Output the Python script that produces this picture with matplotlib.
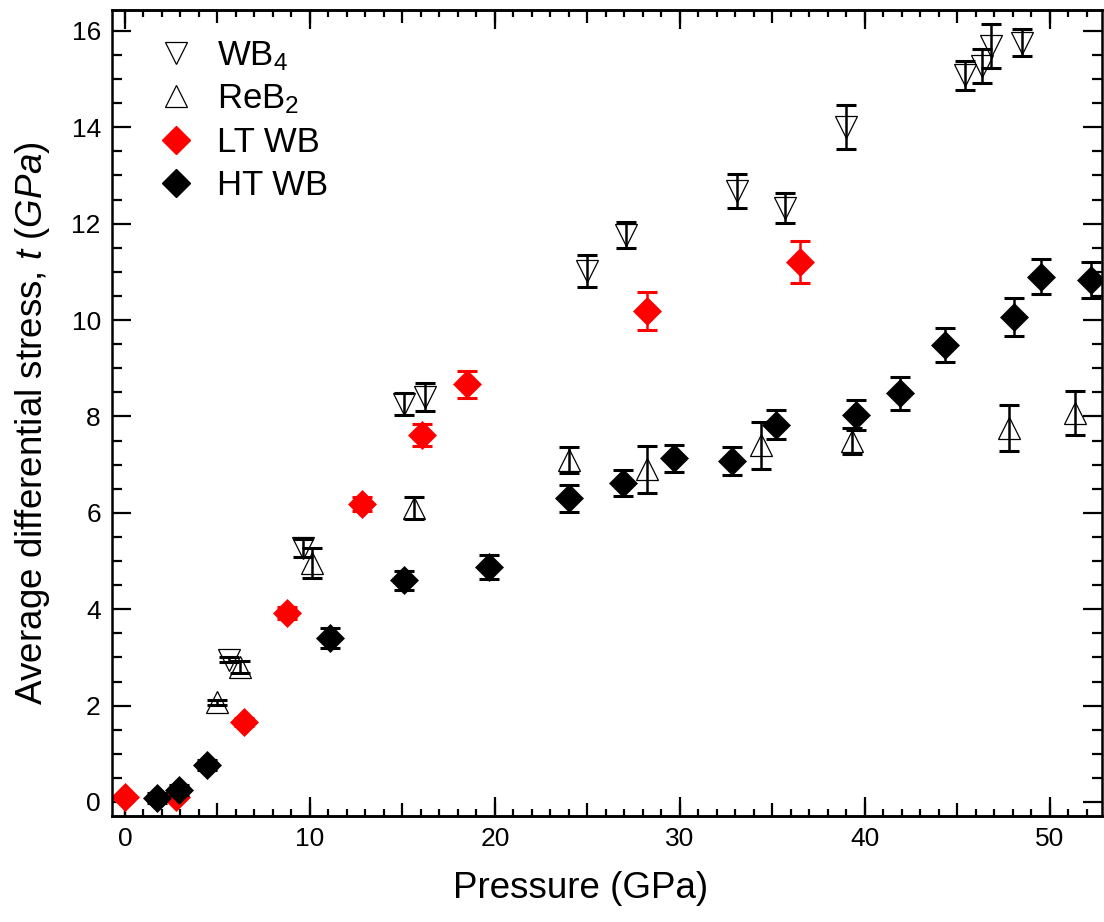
import numpy as np
import matplotlib.pyplot as plt
from matplotlib.lines import Line2D
from matplotlib.ticker import MultipleLocator, FixedLocator, FuncFormatter

plt.rcParams['font.family'] = ['Liberation Sans', 'DejaVu Sans']
plt.rcParams['mathtext.fontset'] = 'custom'
plt.rcParams['mathtext.rm'] = 'Liberation Sans'
plt.rcParams['mathtext.it'] = 'Liberation Sans:italic'
plt.rcParams['mathtext.default'] = 'regular'

# WB4 (open down triangles)
wb4_p = [5.6, 9.6, 15.1, 16.2, 25.0, 27.1, 33.1, 35.7, 39.0, 45.4, 46.3, 46.8, 48.5]
wb4_t = [2.95, 5.27, 8.26, 8.40, 11.02, 11.76, 12.68, 12.32, 14.0, 15.08, 15.27, 15.68, 15.75]
wb4_err = [0.05, 0.18, 0.23, 0.29, 0.33, 0.27, 0.36, 0.31, 0.46, 0.30, 0.35, 0.46, 0.28]

# ReB2 (open up triangles)
reb2_p = [5.0, 6.2, 10.1, 15.6, 24.0, 28.2, 34.4, 39.3, 47.8, 51.35]
reb2_t = [2.07, 2.8, 4.96, 6.1, 7.1, 6.9, 7.4, 7.5, 7.76, 8.07]
reb2_err = [0.05, 0.12, 0.32, 0.22, 0.27, 0.48, 0.49, 0.27, 0.47, 0.46]

# LT WB (red diamonds)
lt_p = [0.0, 2.75, 6.43, 8.75, 12.8, 16.05, 18.5, 28.2, 36.5]
lt_t = [0.1, 0.1, 1.66, 3.92, 6.18, 7.62, 8.67, 10.19, 11.2]
lt_err = [0.05, 0.05, 0.08, 0.12, 0.15, 0.23, 0.28, 0.40, 0.44]

# HT WB (black diamonds)
ht_p = [1.73, 2.9, 4.43, 11.1, 15.1, 19.7, 24.0, 26.9, 29.7, 32.8, 35.2, 39.5, 41.9, 44.3, 48.05, 49.5, 52.2]
ht_t = [0.08, 0.25, 0.77, 3.4, 4.6, 4.88, 6.3, 6.62, 7.13, 7.07, 7.83, 8.03, 8.48, 9.48, 10.06, 10.9, 10.83]
ht_err = [0.10, 0.10, 0.10, 0.20, 0.20, 0.25, 0.28, 0.27, 0.28, 0.29, 0.30, 0.31, 0.34, 0.35, 0.39, 0.37, 0.37]

red = '#ff0000'
tri_ms = 16
dia_ms = 14

fig, ax = plt.subplots(figsize=(11.04, 9.22), dpi=100)
fig.subplots_adjust(left=0.1014, right=0.998, top=0.989, bottom=0.115)

eb = dict(fmt='none', capsize=7, capthick=2.2, elinewidth=1.8)
ax.errorbar(wb4_p, wb4_t, yerr=wb4_err, ecolor='k', **eb)
ax.plot(wb4_p, wb4_t, ls='none', marker='v', ms=tri_ms, mfc='none', mec='k', mew=0.9)
ax.errorbar(reb2_p, reb2_t, yerr=reb2_err, ecolor='k', **eb)
ax.plot(reb2_p, reb2_t, ls='none', marker='^', ms=tri_ms, mfc='none', mec='k', mew=0.9)
ax.errorbar(lt_p, lt_t, yerr=lt_err, ecolor=red, **eb)
ax.plot(lt_p, lt_t, ls='none', marker='D', ms=dia_ms, mfc=red, mec=red, mew=0.5)
ax.errorbar(ht_p, ht_t, yerr=ht_err, ecolor='k', **eb)
ax.plot(ht_p, ht_t, ls='none', marker='D', ms=dia_ms, mfc='k', mec='k', mew=0.5)

ax.set_xlim(-0.7, 52.8)
ax.set_ylim(-0.29, 16.43)

ax.set_xlabel('Pressure (GPa)', fontsize=26.5)
ax.set_ylabel(r'Average differential stress, $\mathit{t\ (GPa)}$', fontsize=26.5)
ax.xaxis.set_label_coords(0.473, -0.068)
ax.yaxis.set_label_coords(-0.061, 0.487)

# x ticks: long at 10, medium at 5, short at 1
ax.xaxis.set_major_locator(MultipleLocator(5))
ax.xaxis.set_major_formatter(FuncFormatter(lambda v, p: f'{v:.0f}' if round(v) % 10 == 0 else ''))
ax.xaxis.set_minor_locator(MultipleLocator(1))
ax.yaxis.set_major_locator(MultipleLocator(2))
ax.yaxis.set_minor_locator(MultipleLocator(0.5))

ax.tick_params(axis='both', which='both', direction='in', top=True, right=True, width=1.6)
ax.tick_params(axis='x', which='major', length=9.5, labelsize=19, pad=8)
ax.tick_params(axis='x', which='minor', length=5)
ax.tick_params(axis='y', which='major', length=14, labelsize=19, pad=8)
ax.tick_params(axis='y', which='minor', length=7)

for loc in ['bottom', 'top']:
    sec = ax.secondary_xaxis(loc)
    sec.xaxis.set_major_locator(FixedLocator(np.arange(0, 60, 10)))
    sec.tick_params(direction='in', length=14, width=1.6, labelbottom=False, labeltop=False)
    sec.spines[loc].set_linewidth(1.8)

for s in ax.spines.values():
    s.set_linewidth(1.8)

handles = [
    Line2D([], [], ls='none', marker='v', ms=tri_ms, mfc='none', mec='k', mew=0.9),
    Line2D([], [], ls='none', marker='^', ms=tri_ms, mfc='none', mec='k', mew=0.9),
    Line2D([], [], ls='none', marker='D', ms=dia_ms, mfc=red, mec=red),
    Line2D([], [], ls='none', marker='D', ms=dia_ms, mfc='k', mec='k'),
]
labels = ['WB$_4$', 'ReB$_2$', 'LT WB', 'HT WB']
ax.legend(handles, labels, loc='upper left', bbox_to_anchor=(0.031, 0.979), frameon=False,
          fontsize=25, handletextpad=0.6, labelspacing=0.28, borderaxespad=0,
          borderpad=0.35, handlelength=1.2)

plt.savefig('out.png', dpi=100)
